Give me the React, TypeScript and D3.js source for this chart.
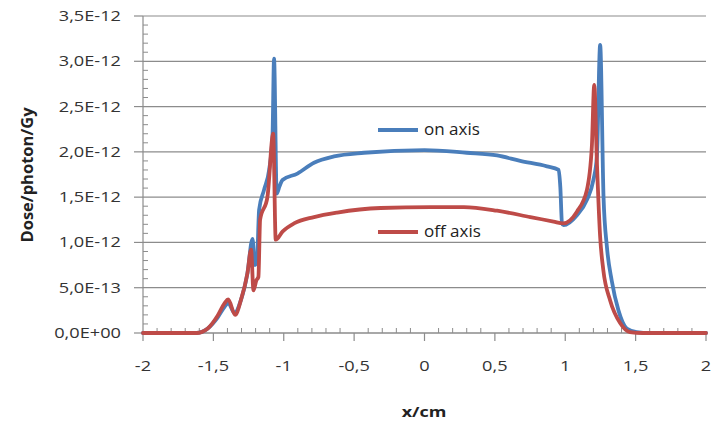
import React from "react";
import * as d3 from "d3";

// values in units of 1E-12 Gy/photon
const onAxisX = [-2, -1.8, -1.62, -1.54, -1.47, -1.42, -1.395, -1.35, -1.305, -1.258, -1.222, -1.205, -1.19, -1.175, -1.14, -1.104, -1.08, -1.069, -1.05, -1.03, -1.009, -0.903, -0.785, -0.643, -0.43, 0, 0.3, 0.516, 0.68, 0.87, 0.953, 0.965, 0.977, 0.988, 1.083, 1.154, 1.2, 1.225, 1.248, 1.272, 1.296, 1.33, 1.378, 1.437, 1.508, 1.6, 2];
const onAxisY = [0, 0, 0, 0.05, 0.17, 0.29, 0.33, 0.22, 0.36, 0.66, 1.04, 0.75, 0.8, 1.36, 1.58, 1.8, 2.17, 3.03, 1.54, 1.62, 1.69, 1.76, 1.88, 1.95, 1.99, 2.02, 1.99, 1.96, 1.9, 1.84, 1.8, 1.61, 1.21, 1.19, 1.3, 1.47, 1.69, 1.95, 3.18, 1.5, 0.95, 0.58, 0.25, 0.05, 0.01, 0, 0];

const offAxisX = [-2, -1.8, -1.62, -1.54, -1.47, -1.42, -1.395, -1.345, -1.305, -1.258, -1.232, -1.215, -1.195, -1.18, -1.168, -1.116, -1.075, -1.057, -1.009, -0.927, -0.785, -0.62, -0.312, 0.043, 0.28, 0.516, 0.752, 0.917, 0.984, 1.083, 1.154, 1.189, 1.206, 1.225, 1.248, 1.27, 1.319, 1.39, 1.46, 1.55, 2];
const offAxisY = [0, 0, 0, 0.05, 0.19, 0.33, 0.37, 0.2, 0.36, 0.66, 0.92, 0.47, 0.58, 0.62, 1.25, 1.5, 2.2, 1.03, 1.12, 1.21, 1.28, 1.33, 1.38, 1.39, 1.39, 1.35, 1.28, 1.23, 1.21, 1.34, 1.58, 2.06, 2.74, 1.88, 1.06, 0.7, 0.36, 0.11, 0.01, 0, 0];

const seriesNames = ["on axis", "off axis"];
const xTicks = [-2, -1.5, -1, -0.5, 0, 0.5, 1, 1.5, 2];
const xTickLabels = ["-2", "-1,5", "-1", "-0,5", "0", "0,5", "1", "1,5", "2"];
const yTicks = [0, 0.5, 1, 1.5, 2, 2.5, 3, 3.5];
const yTickLabels = ["0,0E+00", "5,0E-13", "1,0E-12", "1,5E-12", "2,0E-12", "2,5E-12", "3,0E-12", "3,5E-12"];

const W = 712, H = 423;
const L = 143, R = 706, T = 16, B = 333;
const BLUE = "#4a7ebb", RED = "#be4b48";
const GRID = "#8c8c8c";
const FONT = "'Open Sans', sans-serif";

export default function App() {
  const x = d3.scaleLinear().domain([-2, 2]).range([L, R]);
  const y = d3.scaleLinear().domain([0, 3.5]).range([B, T]);
  const line = d3.line<[number, number]>().x(d => x(d[0])).y(d => y(d[1])).curve(d3.curveMonotoneX);
  const onPts = onAxisX.map((v, i) => [v, onAxisY[i]] as [number, number]);
  const offPts = offAxisX.map((v, i) => [v, offAxisY[i]] as [number, number]);
  const minorX = d3.range(-2, 2.0001, 0.1).filter(v => Math.abs(v * 2 - Math.round(v * 2)) > 1e-6);
  const minorY = d3.range(0, 3.5001, 0.1).filter(v => Math.abs(v * 2 - Math.round(v * 2)) > 1e-6);
  const sx = 1.3;

  return (
    <svg width={W} height={H} style={{ position: "absolute", left: 0, top: 0, background: "#fff" }}>
      <rect width={W} height={H} fill="#fff" />
      {yTicks.map((t, i) => (
        <line key={"g" + i} x1={L} x2={R} y1={y(t)} y2={y(t)} stroke={GRID} strokeWidth={1.2} />
      ))}
      <line x1={L} x2={L} y1={T} y2={B} stroke={GRID} strokeWidth={1.2} />
      <line x1={L} x2={R} y1={B} y2={B} stroke={GRID} strokeWidth={1.2} />
      {yTicks.map((t, i) => (
        <line key={"ym" + i} x1={L - 9} x2={L} y1={y(t)} y2={y(t)} stroke={GRID} strokeWidth={1.2} />
      ))}
      {minorY.map((t, i) => (
        <line key={"yn" + i} x1={L} x2={L + 5} y1={y(t)} y2={y(t)} stroke={GRID} strokeWidth={1} />
      ))}
      {xTicks.map((t, i) => (
        <line key={"xm" + i} x1={x(t)} x2={x(t)} y1={B} y2={B + 8} stroke={GRID} strokeWidth={1.2} />
      ))}
      {minorX.map((t, i) => (
        <line key={"xn" + i} x1={x(t)} x2={x(t)} y1={B - 5} y2={B} stroke={GRID} strokeWidth={1} />
      ))}
      {yTickLabels.map((lab, i) => (
        <text key={"yl" + i} transform={`translate(121,${y(yTicks[i]) + 5}) scale(${sx},1)`} textAnchor="end"
          fontFamily={FONT} fontSize={14} fill="#333">{lab}</text>
      ))}
      {xTickLabels.map((lab, i) => (
        <text key={"xl" + i} transform={`translate(${x(xTicks[i])},${371}) scale(${sx},1)`} textAnchor="middle"
          fontFamily={FONT} fontSize={14} fill="#333">{lab}</text>
      ))}
      <text transform={`translate(424,417) scale(1.2,1)`} textAnchor="middle" fontFamily={FONT} fontWeight="bold" fontSize={15} fill="#222">x/cm</text>
      <text transform={`translate(33,175) rotate(-90)`} textAnchor="middle" fontFamily={FONT} fontWeight="bold" fontSize={16.5} fill="#222">Dose/photon/Gy</text>

      <path d={line(onPts) || ""} fill="none" stroke={BLUE} strokeWidth={3.8} strokeLinejoin="round" strokeLinecap="round" />
      <path d={line(offPts) || ""} fill="none" stroke={RED} strokeWidth={3.8} strokeLinejoin="round" strokeLinecap="round" />

      <line x1={378} x2={418} y1={130} y2={130} stroke={BLUE} strokeWidth={3.8} />
      <text x={424} y={135} fontFamily={FONT} fontSize={17} fill="#222">{seriesNames[0]}</text>
      <line x1={378} x2={418} y1={232} y2={232} stroke={RED} strokeWidth={3.8} />
      <text x={424} y={237} fontFamily={FONT} fontSize={17} fill="#222">{seriesNames[1]}</text>
    </svg>
  );
}
